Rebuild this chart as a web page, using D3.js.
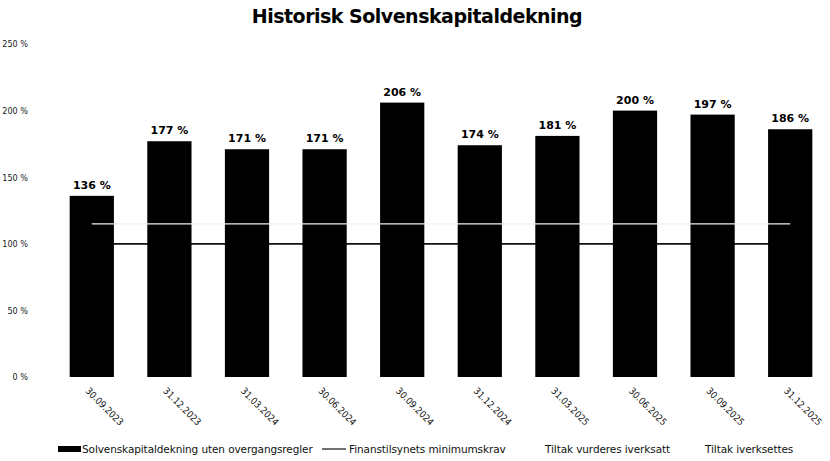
<html>
  <head>
    <title>Historisk Solvenskapitaldekning</title>
    <script src="https://cdn.jsdelivr.net/npm/d3@7"></script>
    <style>
      body { margin: 0; background: #fff; }
      text { font-family: "DejaVu Sans", sans-serif; }
    </style>
  </head>
  <body>
    <div id="main"></div>
  <script>
    var svgWidth = 830;
    var svgHeight = 461;

    // data
    var dates = ["30.09.2023", "31.12.2023", "31.03.2024", "30.06.2024", "30.09.2024",
                 "31.12.2024", "31.03.2025", "30.06.2025", "30.09.2025", "31.12.2025"];
    var solvency = [136, 177, 171, 171, 206, 174, 181, 200, 197, 186];
    var minimumskrav = [100, 100, 100, 100, 100, 100, 100, 100, 100, 100];
    var tiltakVurderes = [115, 115, 115, 115, 115, 115, 115, 115, 115, 115];
    var tiltakIverksettes = [126, 126, 126, 126, 126, 126, 126, 126, 126, 126];
    var yTicks = [0, 50, 100, 150, 200, 250];
    var legendNames = ["Solvenskapitaldekning uten overgangsregler", "Finanstilsynets minimumskrav",
                       "Tiltak vurderes iverksatt", "Tiltak iverksettes"];

    var margin = { top: 44, right: 1, bottom: 84, left: 53 };
    var w = svgWidth - margin.left - margin.right;
    var h = svgHeight - margin.top - margin.bottom;

    var svg = d3.select("#main")
          .append("svg")
          .attr("width", svgWidth)
          .attr("height", svgHeight);

    svg.append("text")
      .attr("x", 417)
      .attr("y", 23)
      .attr("text-anchor", "middle")
      .style("font-weight", "bold")
      .style("font-size", "19px")
      .style("letter-spacing", "-0.5px")
      .text("Historisk Solvenskapitaldekning");

    var g = svg.append("g")
      .attr("transform", "translate(" + margin.left + "," + margin.top + ")");

    var x = d3.scaleBand()
      .domain(dates)
      .range([0, w])
      .paddingInner(0.43)
      .paddingOuter(0.215);

    var y = d3.scaleLinear()
      .domain([0, 250])
      .range([h, 0]);

    // y axis labels only
    var yAxis = d3.axisLeft(y)
      .tickValues(yTicks)
      .tickSize(0)
      .tickPadding(0)
      .tickFormat(function(d) { return d + " %"; });

    var yg = g.append("g")
      .attr("transform", "translate(-25,0)")
      .call(yAxis);
    yg.select(".domain").remove();
    yg.selectAll("text")
      .style("font-size", "9px")
      .style("font-family", "'DejaVu Sans Condensed', 'DejaVu Sans', sans-serif")
      .attr("fill", "#222");

    var line = d3.line()
      .x(function(d, i) { return x(dates[i]) + x.bandwidth() / 2; })
      .y(function(d) { return y(d); });

    // lines drawn behind the bars
    g.append("path")
      .datum(tiltakIverksettes)
      .attr("d", line)
      .style("fill", "none")
      .style("stroke", "#fff")
      .style("stroke-width", 1.5);

    g.append("path")
      .datum(minimumskrav)
      .attr("d", line)
      .style("fill", "none")
      .style("stroke", "#111")
      .style("stroke-width", 1.8);

    g.selectAll("rect.bar")
      .data(solvency)
      .enter()
      .append("rect")
      .attr("class", "bar")
      .attr("x", function(d, i) { return x(dates[i]); })
      .attr("y", function(d) { return y(d); })
      .attr("width", x.bandwidth())
      .attr("height", function(d) { return h - y(d); })
      .style("fill", "#000");

    // white line over the bars
    g.append("path")
      .datum(tiltakVurderes)
      .attr("d", line)
      .style("fill", "none")
      .style("stroke", "#f0f0f0")
      .style("stroke-width", 1.2);

    g.selectAll("text.val")
      .data(solvency)
      .enter()
      .append("text")
      .attr("class", "val")
      .attr("x", function(d, i) { return x(dates[i]) + x.bandwidth() / 2; })
      .attr("y", function(d) { return y(d) - 7; })
      .attr("text-anchor", "middle")
      .style("font-size", "11px")
      .style("font-weight", "bold")
      .text(function(d) { return d + " %"; });

    // rotated date labels
    var xAxis = d3.axisBottom(x).tickSize(0).tickPadding(0);
    var xg = g.append("g")
      .attr("transform", "translate(0," + (h + 12) + ")")
      .call(xAxis);
    xg.select(".domain").remove();
    xg.selectAll("text")
      .attr("y", 0)
      .attr("dy", "0.7em")
      .attr("x", -3)
      .attr("text-anchor", "start")
      .attr("transform", "rotate(45)")
      .style("font-size", "9.5px")
      .style("font-family", "'DejaVu Sans Condensed', 'DejaVu Sans', sans-serif")
      .attr("fill", "#111");

    // legend
    var legend = svg.append("g").attr("transform", "translate(0,449)");
    var lx = [58, 322, 518, 680];
    var tx = [82, 349, 545, 705];

    legend.append("rect")
      .attr("x", lx[0]).attr("y", -3)
      .attr("width", 23).attr("height", 6)
      .style("fill", "#000");
    legend.append("line")
      .attr("x1", lx[1]).attr("x2", lx[1] + 24)
      .attr("y1", 0).attr("y2", 0)
      .style("stroke", "#111").style("stroke-width", 1.2);
    legend.append("line")
      .attr("x1", lx[2]).attr("x2", lx[2] + 24)
      .attr("y1", 0).attr("y2", 0)
      .style("stroke", "#fff").style("stroke-width", 1.2);
    legend.append("line")
      .attr("x1", lx[3]).attr("x2", lx[3] + 24)
      .attr("y1", 0).attr("y2", 0)
      .style("stroke", "#fff").style("stroke-width", 1.2);

    legend.selectAll("text")
      .data(legendNames)
      .enter()
      .append("text")
      .attr("x", function(d, i) { return tx[i]; })
      .attr("y", 0)
      .attr("dy", "0.35em")
      .style("font-size", "10.5px")
      .style("letter-spacing", "-0.1px")
      .attr("fill", "#111")
      .text(function(d) { return d; });
  </script>
  </body>
</html>
